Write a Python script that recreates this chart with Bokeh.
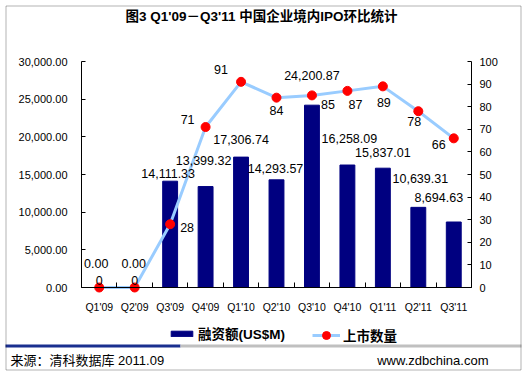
from bokeh.plotting import figure
from bokeh.models import (Range1d, LinearAxis, FixedTicker, NumeralTickFormatter, ColumnDataSource,
                          LabelSet, Label, BoxAnnotation, Legend, LegendItem)
from bokeh.core.properties import value
from bokeh.embed import file_html
from bokeh.resources import INLINE

# ---------------- data ----------------
quarters = ["Q1'09", "Q2'09", "Q3'09", "Q4'09", "Q1'10", "Q2'10",
            "Q3'10", "Q4'10", "Q1'11", "Q2'11", "Q3'11"]
amounts = [0.00, 0.00, 14111.33, 13399.32, 17306.74, 14293.57,
           24200.87, 16258.09, 15837.01, 10639.31, 8694.63]
counts = [0, 0, 28, 71, 91, 84, 85, 87, 89, 78, 66]
amount_ticks = [0, 5000, 10000, 15000, 20000, 25000, 30000]
count_ticks = [0, 10, 20, 30, 40, 50, 60, 70, 80, 90, 100]

title_text = "图3 Q1'09－Q3'11 中国企业境内IPO环比统计"
legend_amount = "融资额(US$M)"
legend_count = "上市数量"
source_text = "来源：清科数据库 2011.09"
site_text = "www.zdbchina.com"

# data-label nudges (screen px) to mimic the original placement
amt_dx = [-3, -1, -2, -2, 0, -1, 0, 2, 0, 2, -15]
amt_dy = [24, 24, 8, 26, 18, 11, 30, 27, 16, 29, 25]
cnt_dx = [0, 0, 17, -18, -20, 0, 16, 8, 1, -4, -15]
cnt_dy = [7, 7, -3, 8, 12, -13, -9, -14, -16, -10, -6]

LAT = "Liberation Sans"
CJK = "Liberation Sans, Noto Sans CJK SC"

# ---------------- layout (page pixels) ----------------
W, H = 527, 376
PL, PR, PT, PB = 81, 471, 61, 287   # plot area edges


def xrange_for(lo, hi):
    s = (hi - lo) / (PR - PL)
    return Range1d(lo - PL * s, hi + (W - PR) * s)


def yrange_for(lo, hi):
    s = (hi - lo) / (PB - PT)
    return Range1d(lo - (H - PB) * s, hi + PT * s)


n = len(quarters)
xs = [i + 0.5 for i in range(n)]
src = ColumnDataSource(dict(
    x=xs, amount=amounts, count=counts,
    amount_txt=["{:,.2f}".format(v) for v in amounts],
    count_txt=[str(c) for c in counts],
    adx=amt_dx, ady=amt_dy, cdx=cnt_dx, cdy=cnt_dy,
))

p = figure(width=W, height=H, output_backend="svg", toolbar_location=None,
           x_range=xrange_for(0, n), y_range=yrange_for(amount_ticks[0], amount_ticks[-1]),
           x_axis_type=None, y_axis_type=None,
           min_border=0, min_border_left=0, min_border_right=0,
           min_border_top=0, min_border_bottom=0)
p.extra_y_ranges = {"count": yrange_for(count_ticks[0], count_ticks[-1])}
p.grid.visible = False
p.outline_line_color = None
p.background_fill_color = "white"
p.border_fill_color = "white"


def style_axis(ax):
    ax.axis_line_color = "black"
    ax.major_tick_line_color = "black"
    ax.minor_tick_line_color = "black"
    ax.major_label_text_font = LAT
    ax.major_label_text_color = "black"


yl = LinearAxis(ticker=FixedTicker(ticks=amount_ticks),
                formatter=NumeralTickFormatter(format="0,0.00"),
                fixed_location=0, bounds=(amount_ticks[0], amount_ticks[-1]))
style_axis(yl)
yl.major_tick_in = 4
yl.major_tick_out = 0
yl.minor_tick_line_color = None
yl.major_label_standoff = 14
yl.major_label_text_font_size = "11px"
p.add_layout(yl, "left")

yr = LinearAxis(y_range_name="count", ticker=FixedTicker(ticks=count_ticks),
                fixed_location=n, bounds=(count_ticks[0], count_ticks[-1]))
style_axis(yr)
yr.major_tick_in = 4
yr.major_tick_out = 0
yr.minor_tick_line_color = None
yr.major_label_standoff = 8
yr.major_label_text_font_size = "11px"
p.add_layout(yr, "right")

xa = LinearAxis(ticker=FixedTicker(ticks=xs, minor_ticks=list(range(n + 1))),
                fixed_location=0, bounds=(0, n))
style_axis(xa)
xa.major_tick_line_color = None
xa.major_tick_in = 0
xa.major_tick_out = 0
xa.minor_tick_in = 5
xa.minor_tick_out = 0
xa.major_label_standoff = 13
xa.major_label_text_font_size = "10.5px"
xa.major_label_overrides = {x: q for x, q in zip(xs, quarters)}
p.add_layout(xa, "below")

# glyphs
bars = p.vbar(x="x", top="amount", width=0.42, source=src,
              fill_color="#000080", line_color="#000080")
line = p.line(x="x", y="count", source=src, y_range_name="count",
              line_color="#99CCFF", line_width=3)
pts = p.scatter(x="x", y="count", source=src, y_range_name="count",
                marker="circle", size=9, fill_color="#FF0000", line_color="#FF0000")

# data labels
p.add_layout(LabelSet(x="x", y="amount", text="amount_txt", source=src,
                      x_offset="adx", y_offset="ady",
                      text_align="center", text_baseline="middle",
                      text_font=value(LAT), text_font_size="12.5px", text_color="black"))
p.add_layout(LabelSet(x="x", y="count", text="count_txt", source=src, y_range_name="count",
                      x_offset="cdx", y_offset="cdy",
                      text_align="center", text_baseline="middle",
                      text_font=value(LAT), text_font_size="12.5px", text_color="black"))


# legends
def mk_legend(label, rends, loc, gw, gh):
    lg = Legend(items=[LegendItem(label=label, renderers=rends)], location=loc,
                orientation="horizontal", glyph_width=gw, glyph_height=gh,
                label_standoff=3, padding=0, margin=0, spacing=0,
                border_line_color=None, background_fill_alpha=0,
                label_text_font=CJK, label_text_font_style="bold",
                label_text_font_size="13.5px", label_text_color="black",
                label_height=gh)
    p.add_layout(lg, "center")


mk_legend(legend_amount, [bars], (168, H - 343), 27, 7)
mk_legend(legend_count, [line, pts], (312, H - 345), 28, 20)


def canvas_box(l, r, t, b, **kw):
    return BoxAnnotation(left=l, right=r, top=t, bottom=b,
                         left_units="canvas", right_units="canvas",
                         top_units="canvas", bottom_units="canvas", **kw)


p.add_layout(Label(x=261, y=16, x_units="canvas", y_units="canvas", text=title_text,
                   text_align="center", text_baseline="middle",
                   text_font=CJK, text_font_style="bold", text_font_size="13.5px",
                   text_color="black"))
p.add_layout(canvas_box(5, 180, 344, 347, fill_color="#1A2F8F", fill_alpha=1, line_color=None))
p.add_layout(canvas_box(180, 521, 344, 347, fill_color="#C0C0C0", fill_alpha=1, line_color=None))
p.add_layout(Label(x=10, y=360, x_units="canvas", y_units="canvas", text=source_text,
                   text_align="left", text_baseline="middle",
                   text_font=CJK, text_font_size="13px", text_color="black"))
p.add_layout(Label(x=488, y=360, x_units="canvas", y_units="canvas", text=site_text,
                   text_align="right", text_baseline="middle",
                   text_font=LAT, text_font_size="13px", text_color="black"))
p.add_layout(canvas_box(5.5, 520.5, 5.5, 369.5, fill_alpha=0, line_color="black", line_width=1))

open("out.html", "w").write(file_html(p, INLINE))
